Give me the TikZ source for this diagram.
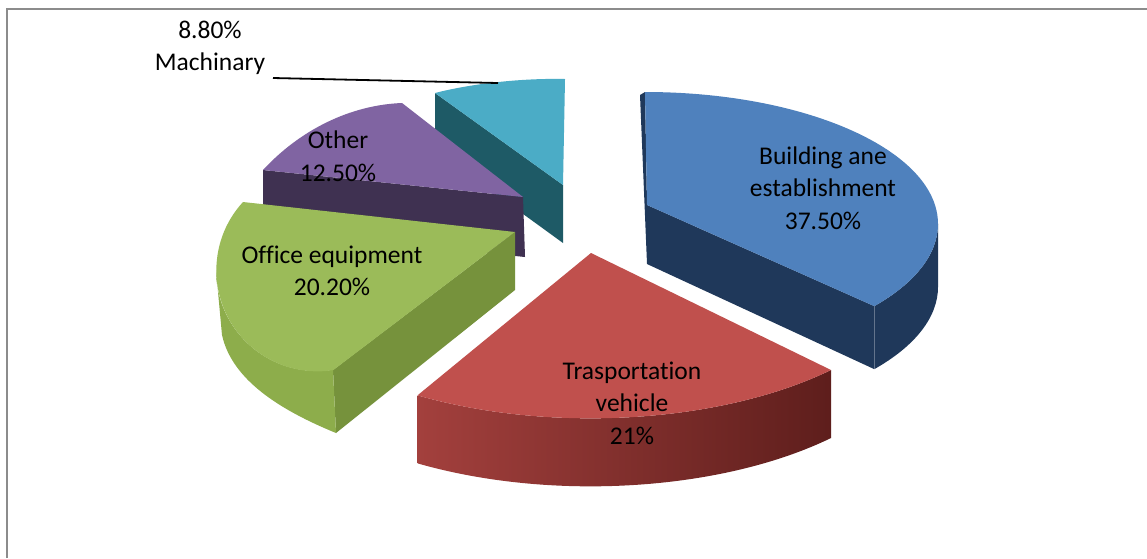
\documentclass[tikz,border=0pt]{standalone}
\usepackage{fontspec}
\setmainfont{Carlito}[Ligatures=NoCommon]
\definecolor{blueTop}{HTML}{4F81BD}
\definecolor{blueSide}{HTML}{1F385A}
\definecolor{redTop}{HTML}{C0504D}
\definecolor{redSideL}{HTML}{A3403D}
\definecolor{redSideR}{HTML}{5E1E1C}
\definecolor{greenTop}{HTML}{9BBB59}
\definecolor{greenOuter}{HTML}{8DAD4B}
\definecolor{greenSide}{HTML}{76923C}
\definecolor{purpleTop}{HTML}{8064A2}
\definecolor{purpleSide}{HTML}{3F3151}
\definecolor{tealTop}{HTML}{4BACC6}
\definecolor{tealSide}{HTML}{1E5A66}
\definecolor{frameGray}{HTML}{8C8C8C}
\begin{document}
\begin{tikzpicture}[x=1pt,y=-1pt]
\tikzset{
  lbl/.style={font=\fontsize{25.5}{32.5}\selectfont, align=center, text=black, inner sep=0pt},
  leader/.style={draw=black, line width=1.8pt},
  framestyle/.style={draw=frameGray, line width=2.2pt}
}
\useasboundingbox (0,0) rectangle (1147,558);
\fill[white] (0,0) rectangle (1147,558);
% frame
\coordinate (fTL) at (7,9);
\coordinate (fTR) at (1147,9);
\coordinate (fBL) at (7,558);
\draw[framestyle] (fBL) -- (fTL) -- (fTR);

% ---- Machinery (teal) ----
\fill[tealSide] (435,93) -- (563,185) -- (563,243) -- (435,150) -- cycle;
\fill[tealTop] (563,185) -- (435,93) .. controls (470,84) and (520,78) .. (565,79) -- cycle;

% ---- Other (purple) ----
\fill[purpleSide] (263,170) -- (523,197) -- (525,257) -- (263,230) -- cycle;
\fill[purpleTop] (523,197) -- (263,170) .. controls (300,130) and (350,105) .. (402,103) -- cycle;

% ---- Building (blue) ----
\fill[blueSide] (640,95) -- (645,92) -- (647,205) -- (647,264) -- cycle;
\fill[blueSide] (647,205) -- (874,306) -- (874,369) -- (647,264) -- cycle;
\fill[blueSide] (938,224) arc[start angle=0, end angle=38.5, x radius=293, y radius=132]
   -- ++(0,63) arc[start angle=38.5, end angle=0, x radius=293, y radius=132] -- cycle;
\fill[blueTop] (647,205) -- (645,92) arc[start angle=-90, end angle=38.5, x radius=293, y radius=132] -- cycle;

% ---- Office equipment (green) ----
\fill[greenSide] (515,232) -- (333,370) -- (336,433) -- (515,290) -- cycle;
\fill[greenOuter] (216,270) arc[start angle=180, end angle=80.9, radius=101]
   -- (336,433) .. controls (280,410) and (232,380) .. (222,335) -- cycle;
\fill[greenTop] (515,232) -- (243,202) arc[start angle=222.6, end angle=80.9, radius=101] -- cycle;

% ---- Transportation (red) ----
\shade[left color=redSideL, right color=redSideR]
   (831,370) arc[start angle=45, end angle=120.6, x radius=340, y radius=165]
   -- ++(0,68) arc[start angle=120.6, end angle=45, x radius=340, y radius=165] -- cycle;
\fill[redTop] (591,253) -- (831,370) arc[start angle=45, end angle=120.6, x radius=340, y radius=165] -- cycle;

% ---- labels ----
\node[lbl] (bld) at (823,188) {Building ane\\establishment\\37.50\%};
\node[lbl] (oth) at (338,156) {Other\\12.50\%};
\node[lbl] (off) at (332,271) {Office equipment\\20.20\%};
\node[lbl] (trn) at (632,403) {Trasportation\\vehicle\\21\%};
\node[lbl] (mch) at (210,48) {8.80\%\\Machinary};
\coordinate (mstart) at (273,78);
\coordinate (mtip) at (498,83);
\draw[leader] (mstart) -- (mtip);
\end{tikzpicture}
\end{document}
